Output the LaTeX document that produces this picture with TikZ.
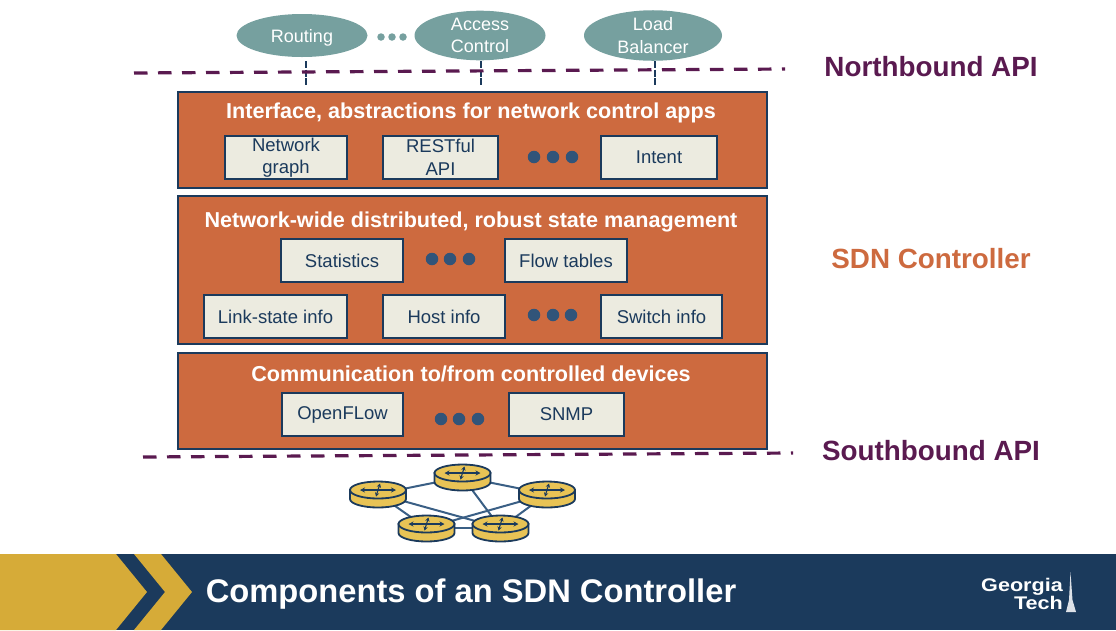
\documentclass[tikz,border=0pt]{standalone}
\usepackage{fontspec}
\setmainfont{Liberation Sans}
\newfontfamily\logofont[FakeStretch=1.18]{Liberation Sans}
\usetikzlibrary{arrows.meta}
\usetikzlibrary{shapes.geometric}
\usetikzlibrary{positioning}

\definecolor{gtnavy}{HTML}{1B3A5C}
\definecolor{gtgold}{HTML}{D6AB38}
\definecolor{boxorange}{HTML}{CD6A3F}
\definecolor{boxcream}{HTML}{ECEBE0}
\definecolor{appteal}{HTML}{76A09F}
\definecolor{apilabel}{HTML}{5A1A50}
\definecolor{routergold}{HTML}{E8C355}
\definecolor{linkblue}{HTML}{3A5F85}

\newcommand{\routerat}[1]{
	\begin{scope}[shift={(#1)}, draw=gtnavy, line width=1.8pt]
		\filldraw[fill=routergold] (-28,-4) -- (-28,5) arc[start angle=180, end angle=0, x radius=28, y radius=8.5] -- (28,-4) -- cycle;
		\filldraw[fill=routergold] (0,-4) ellipse[x radius=28, y radius=8.5];
		\draw[{Stealth[length=5pt, width=5pt]}-{Stealth[length=5pt, width=5pt]}, line width=1.1pt] (-18,-4) -- (18,-4);
		\draw[{Stealth[length=4pt, width=4.5pt]}-{Stealth[length=4pt, width=4.5pt]}, line width=1.1pt] (2,-10.5) -- (-2,2.5);
	\end{scope}
}

\begin{document}
\begin{tikzpicture}[x=1pt, y=-1pt,
	every node/.style={font=\fontsize{18}{22}\selectfont, text=gtnavy, align=center, inner sep=0pt}]
	\useasboundingbox (0,0) rectangle (1116,630);

	% footer band
	\fill[gtnavy] (0,554) rectangle (1116,630);
	\fill[gtgold] (0,554) -- (116,554) -- (147,592) -- (116,630) -- (0,630) -- cycle;
	\fill[gtgold] (134,554) -- (161,554) -- (192,592) -- (161,630) -- (134,630) -- (165,592) -- cycle;
	\node[text=white, font=\fontsize{32.7}{38}\bfseries] (title) at (471,594.5) {Components of an SDN Controller};
	\node[text=white, font=\logofont\fontsize{18.3}{15}\bfseries, align=right, anchor=east] (logo) at (1063,594) {Georgia\\[-1pt]Tech};
	\fill[white!85!gtnavy] (1070.5,572) -- (1072.5,600) -- (1076,612) -- (1066,612) -- (1069,600) -- cycle;

	% layers
	\begin{scope}[every node/.style={rectangle, draw=gtnavy, line width=1.5pt, fill=boxorange, anchor=north west, inner sep=0pt}]
		\node[minimum width=589pt, minimum height=96pt] (layer1) at (177,91) {};
		\node[minimum width=589pt, minimum height=148pt] (layer2) at (177,195) {};
		\node[minimum width=589pt, minimum height=96pt] (layer3) at (177,352) {};
	\end{scope}

	\begin{scope}[every node/.style={text=white, font=\fontsize{21.6}{26}\bfseries}]
		\node (head1) at (471,113) {Interface, abstractions for network control apps};
		\node (head2) at (471,222) {Network-wide distributed, robust state management};
		\node (head3) at (471,374) {Communication to/from controlled devices};
	\end{scope}

	% blocks inside the layers
	\begin{scope}[every node/.style={rectangle, draw=gtnavy, line width=1.4pt, fill=boxcream, text=gtnavy, align=center, inner sep=0pt,
	              minimum height=43pt, font=\fontsize{18.5}{22.5}\selectfont}]
		\node[minimum width=122pt] (graph) at (286,157.5) {Network\\graph};
		\node[minimum width=115pt] (rest) at (440.5,157.5) {RESTful\\API};
		\node[minimum width=116pt] (intent) at (659,157.5) {Intent};
		\node[minimum width=122pt] (stats) at (342,260.5) {Statistics};
		\node[minimum width=122pt] (flow) at (566,260.5) {Flow tables};
		\node[minimum width=143pt] (link) at (275.5,316.5) {Link-state info};
		\node[minimum width=122pt] (host) at (444,316.5) {Host info};
		\node[minimum width=121pt] (switch) at (661.5,316.5) {Switch info};
		\node[minimum width=121pt] (ofl) at (342.5,414.5) {OpenFLow};
		\node[minimum width=115pt] (snmp) at (566.5,414.5) {SNMP};
	\end{scope}

	% dots
	\begin{scope}[every node/.style={circle, fill=linkblue!70!gtnavy, minimum size=12.5pt, inner sep=0pt}]
		\node (d1) at (534,157) {};
		\node (d2) at (553,157) {};
		\node (d3) at (572,157) {};
		\node (d4) at (432,259) {};
		\node (d5) at (450,259) {};
		\node (d6) at (469,259) {};
		\node (d7) at (534,315) {};
		\node (d8) at (553,315) {};
		\node (d9) at (571,315) {};
		\node (d10) at (441,419) {};
		\node (d11) at (459,419) {};
		\node (d12) at (478,419) {};
	\end{scope}
	\begin{scope}[every node/.style={circle, fill=appteal, minimum size=7.5pt, inner sep=0pt}]
		\node (d13) at (381,37) {};
		\node (d14) at (392,37) {};
		\node (d15) at (403,37) {};
	\end{scope}

	% apps
	\begin{scope}[every node/.style={ellipse, fill=appteal, text=white, align=center, inner sep=0pt, minimum height=43pt,
	              font=\fontsize{18}{22.5}\selectfont}]
		\node[minimum width=131pt, text depth=0pt] (routing) at (302,35.5) {Routing};
		\node[minimum width=131pt] (access) at (480,35.5) {Access\\Control};
		\node[minimum width=138pt] (load) at (653,35.5) {Load\\Balancer};
	\end{scope}

	\coordinate (c1) at (306,85);
	\coordinate (c2) at (481,85);
	\coordinate (c3) at (655,85);
	\coordinate (nl) at (134,73);
	\coordinate (nr) at (785,69);
	\coordinate (sl) at (143,457);
	\coordinate (sr) at (793,453);

	\begin{scope}[draw=gtnavy, line width=1.8pt, dash pattern=on 7pt off 1.6pt]
		\draw (306,61) -- (c1);
		\draw (481,61) -- (c2);
		\draw (655,61) -- (c3);
	\end{scope}
	\begin{scope}[draw=apilabel, line width=3.2pt, dash pattern=on 13.5pt off 10.5pt]
		\draw (nl) -- (nr);
		\draw (sl) -- (sr);
	\end{scope}

	% api labels
	\begin{scope}[every node/.style={font=\fontsize{27.8}{32}\bfseries, text=apilabel}]
		\node (north) at (931,66.5) {Northbound API};
		\node[text=boxorange] (ctrl) at (931,258.5) {SDN Controller};
		\node (south) at (931,450.5) {Southbound API};
	\end{scope}

	% routers
	\begin{scope}[every node/.style={inner sep=0pt, minimum size=0pt}]
		\node (r1) at (378,494) {};
		\node (r2) at (462.5,477) {};
		\node (r3) at (547,494) {};
		\node (r4) at (426.5,528) {};
		\node (r5) at (500.5,528) {};
	\end{scope}
	\begin{scope}[draw=linkblue, line width=2pt]
		\draw (r1.center) -- (r2.center);
		\draw (r2.center) -- (r3.center);
		\draw (r1.center) -- (r4.center);
		\draw (r1.center) -- (r5.center);
		\draw (r2.center) -- (r5.center);
		\draw (r3.center) -- (r4.center);
		\draw (r3.center) -- (r5.center);
		\draw (r4.center) -- (r5.center);
	\end{scope}
	\routerat{r1}
	\routerat{r2}
	\routerat{r3}
	\routerat{r4}
	\routerat{r5}
\end{tikzpicture}
\end{document}
